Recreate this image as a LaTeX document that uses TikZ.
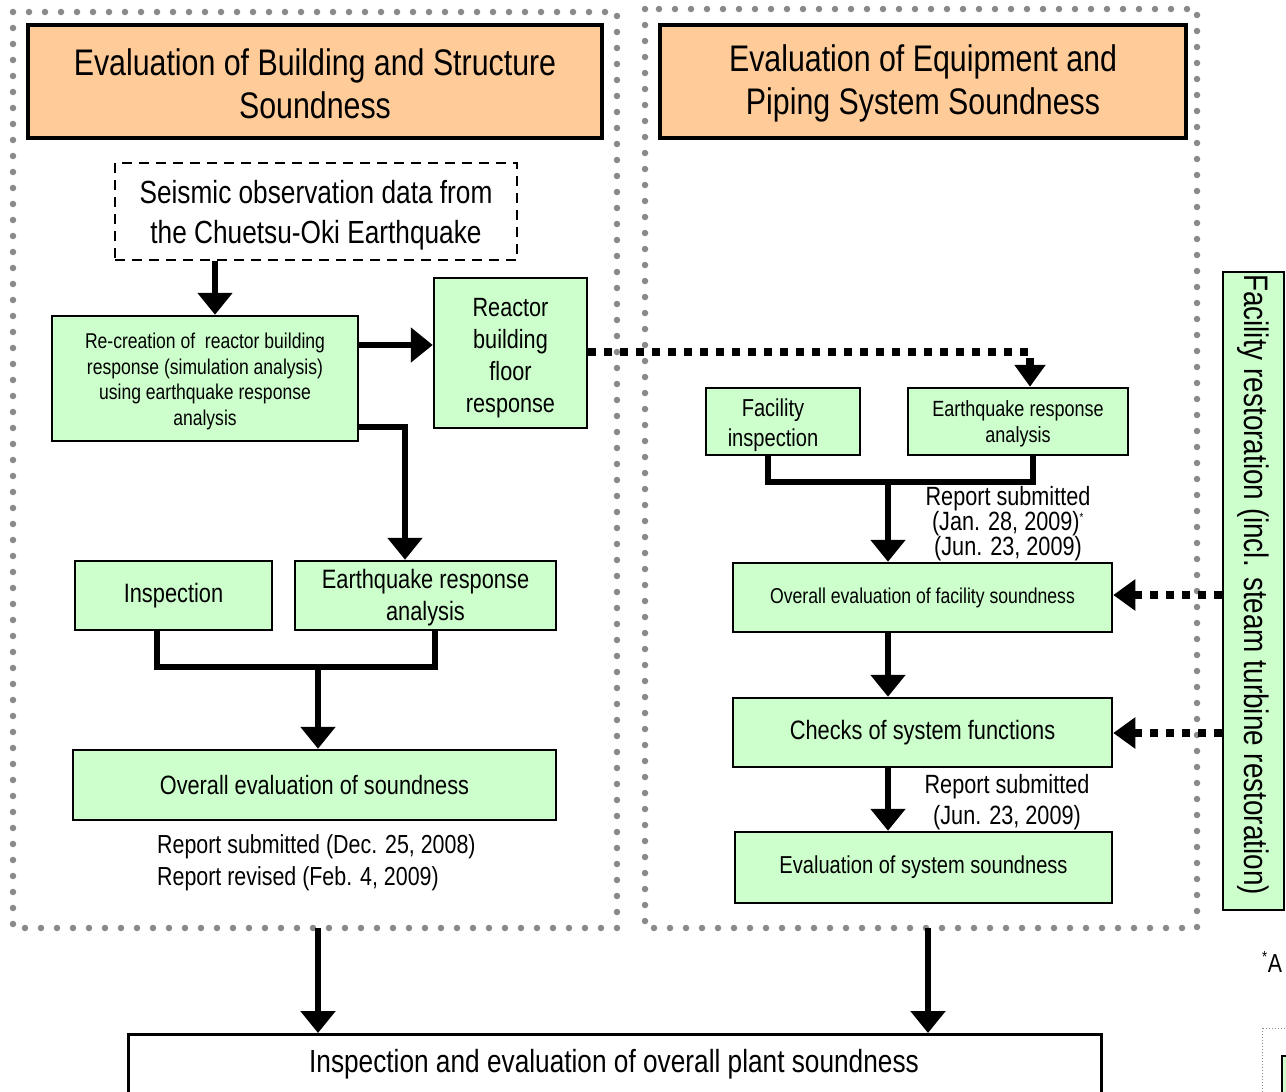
\documentclass[tikz,border=0pt]{standalone}
\usepackage{fontspec}
\setmainfont{Liberation Sans}[FakeStretch=0.82]
\usetikzlibrary{arrows.meta,calc}
\definecolor{gfill}{HTML}{CCFFCC}
\definecolor{ofill}{HTML}{FFCC99}
\definecolor{dotgray}{HTML}{8A8A8A}
\newcommand{\fs}[2]{\fontsize{#1}{#2}\selectfont}
\begin{document}
\begin{tikzpicture}[x=1pt,y=-1pt,
  obox/.style={draw=black,line width=3.5pt,fill=ofill,inner sep=0pt,align=center},
  gbox/.style={draw=black,line width=2.5pt,fill=gfill,inner sep=0pt,align=center},
  dbox/.style={draw=black,line width=2.5pt,dash pattern=on 10pt off 7pt,inner sep=0pt,align=center},
  wbox/.style={draw=black,line width=2.5pt,fill=white,inner sep=0pt,align=center},
  arr/.style={line width=6pt,-{Triangle[width=34pt,length=22pt]}},
  thk/.style={line width=6pt,line join=miter},
  dotarr/.style={line width=8pt,dash pattern=on 8pt off 8pt,-{Triangle[width=30pt,length=22pt]}},
  container/.style={dotgray,line width=6.5pt,line cap=round,dash pattern=on 0pt off 16pt},
  lbl/.style={inner sep=0pt,align=center}]
\useasboundingbox (0,0) rectangle (1286,1092);
\clip (0,0) rectangle (1286,1092);
\fill[white] (0,0) rectangle (1286,1092);

% containers
\draw[container] (13,12) rectangle (617,928);
\draw[container] (645,9) rectangle (1197,928);

% headers
\node[obox,minimum width=574pt,minimum height=113pt] (h1) at (315,81.5) {};
\node[lbl,font={\fs{37}{43}},yshift=-2pt] (h1t) at (h1.center)
  {Evaluation of Building and Structure\\Soundness};
\node[obox,minimum width=526pt,minimum height=113pt] (h2) at (923,81.5) {};
\node[lbl,font={\fs{37}{43}},yshift=-2pt] (h2t) at (h2.center)
  {Evaluation of Equipment and\\Piping System Soundness};

% left column
\node[dbox,minimum width=402pt,minimum height=97pt] (seis) at (316,211.5) {};
\node[lbl,font={\fs{32}{40}},yshift=-4pt] (seist) at (seis.center)
  {Seismic observation data from\\the Chuetsu-Oki Earthquake};
\node[gbox,minimum width=306pt,minimum height=125pt] (recr) at (205,378.5) {};
\node[lbl,font={\fs{21.4}{25.5}},yshift=-3pt] (recrt) at (recr.center)
  {Re-creation of\ \ reactor building\\response (simulation analysis)\\using earthquake response\\analysis};
\node[gbox,minimum width=153pt,minimum height=150pt] (reac) at (510.5,353) {};
\node[lbl,font={\fs{26.4}{32}},yshift=-5pt] (react) at (reac.center)
  {Reactor\\building\\floor\\response};
\node[gbox,minimum width=197pt,minimum height=69pt,font={\fs{26.6}{32}}] (inspL) at (173.5,595.5)
  {Inspection};
\node[gbox,minimum width=261pt,minimum height=69pt] (eqL) at (425.5,595.5) {};
\node[lbl,font={\fs{26.6}{32}},yshift=-2pt] (eqLt) at (eqL.center)
  {Earthquake response\\analysis};
\node[gbox,minimum width=483pt,minimum height=70pt,font={\fs{26.5}{30}}] (ovL) at (314.5,785)
  {Overall evaluation of soundness};
\node[lbl,anchor=west,align=left,font={\fs{26.1}{32}}] (repL) at (157,863)
  {Report submitted (Dec. 25, 2008)\\Report revised (Feb. 4, 2009)};

% right column
\node[gbox,minimum width=154pt,minimum height=67pt] (facI) at (783,421.5) {};
\node[lbl,font={\fs{24.5}{30}}] (facIt) at (773,425) {Facility\\inspection};
\node[gbox,minimum width=220pt,minimum height=67pt] (eqR) at (1018,421.5) {};
\node[lbl,font={\fs{22}{26}},yshift=-2pt] (eqRt) at (eqR.center)
  {Earthquake response\\analysis};
\node[gbox,minimum width=379pt,minimum height=69pt,font={\fs{21.5}{24}}] (ovR) at (922.5,597.5)
  {Overall evaluation of facility soundness};
\node[gbox,minimum width=379pt,minimum height=69pt,font={\fs{26.6}{30}}] (chk) at (922.5,732.5)
  {Checks of system functions};
\node[gbox,minimum width=377pt,minimum height=71pt,font={\fs{24.5}{30}}] (evs) at (923.5,867.5)
  {Evaluation of system soundness};
\node[lbl,font={\fs{26.4}{25}}] (repR1) at (1008,524)
  {Report submitted\\(Jan. 28, 2009)\textsuperscript{\fs{12}{12}*}\\(Jun. 23, 2009)};
\node[lbl,font={\fs{26.4}{31}}] (repR2) at (1007,802)
  {Report submitted\\(Jun. 23, 2009)};

% facility restoration
\node[gbox,minimum width=61pt,minimum height=638pt] (fres) at (1253.5,591) {};
\node[lbl,rotate=-90,font={\fs{34}{36}}] (frest) at (1253.5,584.5) {Facility restoration (incl. steam turbine restoration)};

% bottom
\node[wbox,minimum width=973pt,minimum height=80pt,anchor=north west] (bot) at (127,1033) {};
\node[lbl,font={\fs{32}{36}}] (bott) at (614,1064) {Inspection and evaluation of overall plant soundness};

% partial items at right edge
\node[lbl,anchor=west,font={\fs{26}{30}}] (astA) at (1262,962) {\textsuperscript{\fs{16}{16}*}A};
\draw[dotgray,line width=1pt,dotted] (1262,1028) rectangle (1400,1200);
\draw[black,line width=2.5pt,fill=gfill] (1282,1056) rectangle (1400,1200);

% coordinates for connector columns
\coordinate (xa) at (215,0);
\coordinate (xb) at (405,0);
\coordinate (xd) at (1030,0);
\coordinate (xe) at (888,0);
\coordinate (ya) at (0,345);
\coordinate (yb) at (0,427);
\coordinate (yc) at (0,352);
\coordinate (yd) at (0,595);
\coordinate (ye) at (0,733);
\coordinate (jL) at (318,667);
\coordinate (jR) at (888,482);
\coordinate (cL) at (318,928);
\coordinate (cR) at (928,928);

% connectors
\draw[arr] (seis.south -| xa) -- (recr.north -| xa);
\draw[arr] (recr.east |- ya) -- (reac.west |- ya);
\draw[thk,arr] (recr.east |- yb) -| (eqL.north -| xb);
\draw[thk] (inspL.south -| 157,0) |- (jL) -| (eqL.south -| 435,0);
\draw[arr] (jL) -- (ovL.north -| jL);
\draw[dotarr] (reac.east |- yc) -| (eqR.north -| xd);
\draw[thk] (facI.south -| 768,0) |- (jR) -| (eqR.south -| 1033,0);
\draw[arr] (jR) -- (ovR.north -| jR);
\draw[arr] (ovR.south -| xe) -- (chk.north -| xe);
\draw[arr] (chk.south -| xe) -- (evs.north -| xe);
\draw[dotarr] (fres.west |- yd) -- (ovR.east |- yd);
\draw[dotarr] (fres.west |- ye) -- (chk.east |- ye);
\draw[arr] (cL) -- (bot.north -| cL);
\draw[arr] (cR) -- (bot.north -| cR);
\end{tikzpicture}
\end{document}
